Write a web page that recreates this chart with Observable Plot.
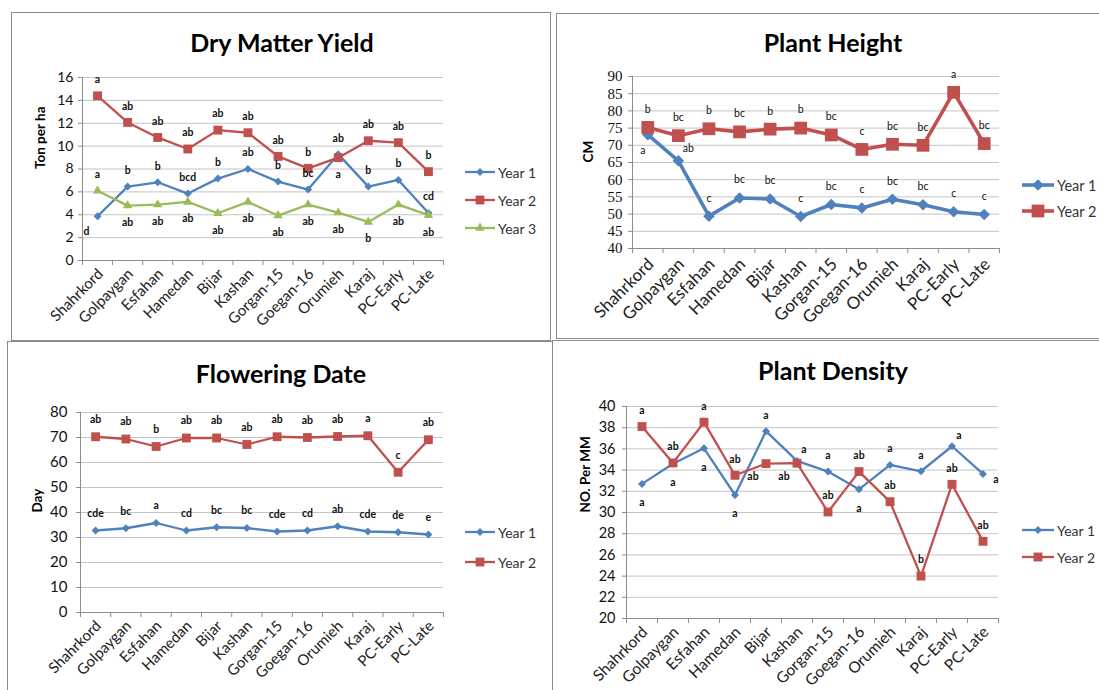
<!DOCTYPE html>
<html><head><meta charset="utf-8">
<script src="https://cdn.jsdelivr.net/npm/d3@7"></script>
<script src="https://cdn.jsdelivr.net/npm/@observablehq/plot@0.6"></script>
<style>
body{margin:0;background:#fff;}
#root{position:relative;width:1099px;height:690px;overflow:hidden;background:#fff;font-family:Lato,"Open Sans",sans-serif;}
.title{position:absolute;font-weight:bold;color:#000;transform:translate(-50%,-50%);white-space:nowrap;}
.border{position:absolute;border:1.5px solid #8a8a8a;box-sizing:border-box;pointer-events:none;}
.ltext{position:absolute;color:#333;white-space:nowrap;transform:translateY(-50%);}
</style></head><body><div id="root"></div>
<script>
const categories = ["Shahrkord","Golpaygan","Esfahan","Hamedan","Bijar","Kashan","Gorgan-15","Goegan-16","Orumieh","Karaj","PC-Early","PC-Late"];

// Dry Matter Yield (Ton per ha)
const dmyTicks = [0,2,4,6,8,10,12,14,16];
const dmyYear1 = [3.87,6.46,6.84,5.85,7.16,8.0,6.9,6.2,9.3,6.46,7.04,4.16];
const dmyYear2 = [14.4,12.07,10.76,9.75,11.4,11.17,9.1,8.06,8.99,10.47,10.3,7.77];
const dmyYear3 = [6.1,4.8,4.89,5.12,4.13,5.12,3.93,4.89,4.19,3.37,4.89,3.96];
const dmyLetters1 = ["d","b","b","bcd","b","ab","b","bc","ab","b","b","cd"];
const dmyLetters2 = ["a","ab","ab","ab","ab","ab","ab","b","a","ab","ab","b"];
const dmyLetters3 = ["a","ab","ab","ab","ab","ab","ab","ab","ab","b","ab","ab"];
const dmySides1 = ["below-left","above","above","above","above","above","above","above","above","above","above","above"];
const dmySides2 = ["above","above","above","above","above","above","above","above","below","above","above","above"];
const dmySides3 = ["above","below","below","below","below","below","below","below","below","below","below","below"];

// Plant Height (CM)
const phTicks = [40,45,50,55,60,65,70,75,80,85,90];
const phYear1 = [73.1,65.5,49.4,54.7,54.4,49.3,52.8,51.8,54.3,52.7,50.7,49.9];
const phYear2 = [75.2,72.8,74.8,73.9,74.7,75.0,73.0,68.8,70.3,70.0,85.4,70.5];
const phLetters1 = ["a","ab","c","bc","bc","c","bc","c","bc","bc","c","c"];
const phLetters2 = ["b","bc","b","bc","b","b","bc","c","bc","bc","a","bc"];
const phSides1 = ["below-left","above-right","above","above","above","above","above","above","above","above","above","above"];
const phSides2 = ["above","above","above","above","above","above","above","above","above","above","above","above"];

// Flowering Date (Day)
const fdTicks = [0,10,20,30,40,50,60,70,80];
const fdYear1 = [32.8,33.7,35.8,32.8,34.1,33.8,32.4,32.8,34.5,32.4,32.1,31.2];
const fdYear2 = [70.3,69.4,66.4,69.8,69.8,67.2,70.3,70.0,70.4,70.7,56.1,69.1];
const fdLetters1 = ["cde","bc","a","cd","bc","bc","cde","cd","ab","cde","de","e"];
const fdLetters2 = ["ab","ab","b","ab","ab","ab","ab","ab","ab","a","c","ab"];
const fdSides1 = ["above","above","above","above","above","above","above","above","above","above","above","above"];
const fdSides2 = ["above","above","above","above","above","above","above","above","above","above","above","above"];

// Plant Density (NO. Per MM)
const pdTicks = [20,22,24,26,28,30,32,34,36,38,40];
const pdYear1 = [32.7,34.6,36.06,31.65,37.67,34.87,33.86,32.19,34.49,33.89,36.25,33.64];
const pdYear2 = [38.11,34.68,38.52,33.51,34.61,34.65,30.05,33.86,31.02,24.0,32.66,27.28];
const pdLetters1 = ["a","a","a","a","a","a","a","a","a","a","a","a"];
const pdLetters2 = ["a","ab","a","ab","ab","ab","ab","ab","ab","b","ab","ab"];
const pdSides1 = ["below","below","below","below","above","above-right","above","below","above","above","above-right","right"];
const pdSides2 = ["above","above","above","above","below-left","below-left","above","above","above","above","above","above"];

const FONT = "Lato, 'Open Sans', sans-serif";
const COLORS = {"Year 1":"#4F81BD","Year 2":"#C0504D","Year 3":"#9BBB59"};
const SYMBOLS = {"Year 1":"diamond2","Year 2":"square","Year 3":"triangle"};
const D3SYM = {"Year 1":d3.symbolDiamond2,"Year 2":d3.symbolSquare,"Year 3":d3.symbolTriangle};
const root = document.getElementById("root");

function drawPanel(cfg) {
  const {frame, box} = cfg;
  const mL = frame.l - box.x0, mR = box.x1 - frame.r, mT = frame.t - box.y0, mB = box.y1 - frame.b;
  const marks = [
    Plot.gridY(cfg.ticks, {stroke:"#c4c4c4", strokeOpacity:1}),
    Plot.ruleY([cfg.ticks[0]], {stroke:"#8c8c8c"}),
    Plot.ruleX([-0.5], {stroke:"#8c8c8c"}),
    Plot.axisY(cfg.ticks, {tickSize:4, tickFormat:() => "", color:"#8c8c8c", label:null}),
    Plot.axisY(cfg.ticks, {tickSize:0, tickPadding:cfg.yPad, fontSize:cfg.yFont, fontFamily:cfg.yFamily || FONT, color:"#111", label:null}),
    Plot.axisX(d3.range(-0.5, 12, 1), {tickSize:5, tickFormat:() => "", color:"#8c8c8c", label:null}),
    Plot.axisX(d3.range(12), {tickSize:0, tickPadding:cfg.xPad, tickRotate:-45, dx:cfg.xDx || 0, tickFormat:i => categories[i], fontSize:cfg.xFont, fontFamily:FONT, color:"#222", label:null}),
    Plot.text([cfg.yLabel], {text:d => d, frameAnchor:"left", dx:cfg.yLabelDx, rotate:-90, fontWeight:"bold", fontSize:cfg.yLabelSize, fontFamily:FONT, fill:"#000"})
  ];
  for (const s of cfg.series) {
    const rows = s.values.map((v, i) => ({i, v, letter:s.letters[i], side:s.sides[i]}));
    marks.push(Plot.line(rows, {x:"i", y:"v", stroke:COLORS[s.name], strokeWidth:cfg.lw}));
    marks.push(Plot.dot(rows, {x:"i", y:"v", symbol:SYMBOLS[s.name], fill:COLORS[s.name], r:cfg.r[s.name]}));
  }
  for (const s of cfg.series) {
    const rows = s.values.map((v, i) => ({i, v, letter:s.letters[i], side:s.sides[i]}));
    for (const [side, [dx, dy]] of Object.entries(cfg.offsets)) {
      marks.push(Plot.text(rows.filter(d => d.side === side), {x:"i", y:"v", text:"letter", dx, dy,
        fontSize:cfg.letterSize, fontWeight:cfg.letterWeight, fontFamily:FONT, fill:"#111"}));
    }
  }
  const plot = Plot.plot({
    width: box.x1 - box.x0, height: box.y1 - box.y0,
    marginLeft:mL, marginRight:mR, marginTop:mT, marginBottom:mB,
    x:{domain:[-0.5, 11.5], axis:null},
    y:{domain:[cfg.ticks[0], cfg.ticks[cfg.ticks.length - 1]], axis:null},
    style:{fontFamily:FONT, background:"transparent", overflow:"visible"},
    marks
  });
  plot.style.position = "absolute";
  plot.style.left = box.x0 + "px";
  plot.style.top = box.y0 + "px";
  root.appendChild(plot);

  const t = document.createElement("div");
  t.className = "title";
  t.textContent = cfg.title;
  t.style.left = cfg.titlePos[0] + "px";
  t.style.top = cfg.titlePos[1] + "px";
  t.style.fontSize = cfg.titleSize + "px";
  root.appendChild(t);

  const L = cfg.legend;
  cfg.series.forEach((s, k) => {
    const y = L.ys[k];
    const svg = d3.create("svg").attr("width", L.len).attr("height", 24)
      .style("position", "absolute").style("left", L.x + "px").style("top", (y - 12) + "px");
    svg.append("line").attr("x1", 0).attr("x2", L.len).attr("y1", 12).attr("y2", 12)
      .attr("stroke", COLORS[s.name]).attr("stroke-width", cfg.lw);
    svg.append("path").attr("transform", `translate(${L.len / 2},12)`)
      .attr("d", d3.symbol(D3SYM[s.name], Math.PI * cfg.r[s.name] * cfg.r[s.name])())
      .attr("fill", COLORS[s.name]);
    root.appendChild(svg.node());
    const lt = document.createElement("div");
    lt.className = "ltext";
    lt.textContent = s.name;
    lt.style.left = (L.x + L.len + 3) + "px";
    lt.style.top = y + "px";
    lt.style.fontSize = L.font + "px";
    root.appendChild(lt);
  });
}

drawPanel({
  title:"Dry Matter Yield", titlePos:[282, 42], titleSize:25,
  frame:{l:82, r:443, t:77, b:260}, box:{x0:13, x1:550, y0:50, y1:339},
  ticks:dmyTicks, yPad:9, yFont:14, xPad:11, xFont:15, xDx:3,
  yLabel:"Ton per ha", yLabelDx:-42, yLabelSize:13.5,
  lw:2.3, r:{"Year 1":3.6, "Year 2":5, "Year 3":3.5},
  letterSize:10.5, letterWeight:"bold",
  offsets:{above:[0,-16], below:[0,17], "below-left":[-11,15]},
  series:[
    {name:"Year 1", values:dmyYear1, letters:dmyLetters1, sides:dmySides1},
    {name:"Year 2", values:dmyYear2, letters:dmyLetters2, sides:dmySides2},
    {name:"Year 3", values:dmyYear3, letters:dmyLetters3, sides:dmySides3}
  ],
  legend:{x:465, len:30, ys:[172, 200, 228], font:14}
});

drawPanel({
  title:"Plant Height", titlePos:[833, 42], titleSize:25,
  frame:{l:632, r:999, t:76, b:248}, box:{x0:557, x1:1099, y0:50, y1:338},
  ticks:phTicks, yPad:10, yFont:15, yFamily:"'Liberation Serif', serif", xPad:13, xFont:17, xDx:3,
  yLabel:"CM", yLabelDx:-44, yLabelSize:13.5,
  lw:3.6, r:{"Year 1":5.2, "Year 2":7.2},
  letterSize:10.5, letterWeight:"normal",
  offsets:{above:[0,-18], "below-left":[-5,16], "above-right":[10,-12]},
  series:[
    {name:"Year 1", values:phYear1, letters:phLetters1, sides:phSides1},
    {name:"Year 2", values:phYear2, letters:phLetters2, sides:phSides2}
  ],
  legend:{x:1022, len:32, ys:[185, 211], font:14.5}
});

drawPanel({
  title:"Flowering Date", titlePos:[281, 373], titleSize:25,
  frame:{l:80, r:443, t:412, b:612}, box:{x0:9, x1:551, y0:385, y1:690},
  ticks:fdTicks, yPad:13, yFont:15, xPad:11, xFont:15, xDx:3,
  yLabel:"Day", yLabelDx:-43, yLabelSize:13.5,
  lw:2.3, r:{"Year 1":3.6, "Year 2":5},
  letterSize:10.5, letterWeight:"bold",
  offsets:{above:[0,-17]},
  series:[
    {name:"Year 1", values:fdYear1, letters:fdLetters1, sides:fdSides1},
    {name:"Year 2", values:fdYear2, letters:fdLetters2, sides:fdSides2}
  ],
  legend:{x:465, len:30, ys:[532, 562], font:14}
});

drawPanel({
  title:"Plant Density", titlePos:[833, 370], titleSize:25,
  frame:{l:626, r:998, t:406, b:618}, box:{x0:553, x1:1099, y0:385, y1:690},
  ticks:pdTicks, yPad:11, yFont:14.5, xPad:11, xFont:15.5, xDx:3,
  yLabel:"NO. Per MM", yLabelDx:-41, yLabelSize:13.5,
  lw:2.3, r:{"Year 1":3.6, "Year 2":5},
  letterSize:10.5, letterWeight:"bold",
  offsets:{above:[0,-16], below:[0,19], "above-right":[7,-11], "below-left":[-13,13], right:[13,6]},
  series:[
    {name:"Year 1", values:pdYear1, letters:pdLetters1, sides:pdSides1},
    {name:"Year 2", values:pdYear2, letters:pdLetters2, sides:pdSides2}
  ],
  legend:{x:1022, len:32, ys:[530, 557], font:14}
});

// panel borders
[[11, 12, 540, 329], [556, 13, 560, 326], [7, 341, 546, 360], [552, 340, 560, 360]].forEach(([x, y, w, h]) => {
  const b = document.createElement("div");
  b.className = "border";
  b.style.left = x + "px"; b.style.top = y + "px";
  b.style.width = w + "px"; b.style.height = h + "px";
  root.appendChild(b);
});
</script>
</body></html>
